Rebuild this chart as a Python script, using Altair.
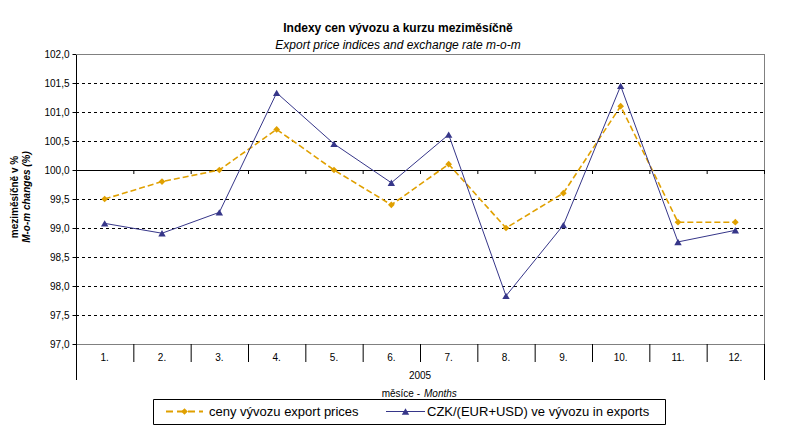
import altair as alt
import pandas as pd

# ---- data ----
months = list(range(1, 13))
month_labels = ["1.", "2.", "3.", "4.", "5.", "6.", "7.", "8.", "9.", "10.", "11.", "12."]
export_prices = [99.5, 99.8, 100.0, 100.7, 100.0, 99.4, 100.1, 99.0, 99.6, 101.1, 99.1, 99.1]
exchange_rate = [99.08, 98.91, 99.27, 101.33, 100.45, 99.78, 100.61, 97.83, 99.05, 101.45, 98.76, 98.96]
y_ticks = [97.0, 97.5, 98.0, 98.5, 99.0, 99.5, 100.0, 100.5, 101.0, 101.5, 102.0]
year_label = "2005"
series_names = ["ceny vývozu export prices", "CZK/(EUR+USD) ve vývozu in exports"]
title_cz = "Indexy cen vývozu a kurzu meziměsíčně"
title_en = "Export price indices and exchange rate m-o-m"
y_title = ["meziměsíčně v %", "M-o-m changes (%)"]
x_title = ["měsíce -", "Months"]

ORANGE = "#E0A000"
BLUE = "#363689"
GRAY = "#808080"
FONT = "Liberation Sans"

W, H = 688, 290

df = pd.DataFrame({"month": months, "label": month_labels,
                   "prices": export_prices, "rate": exchange_rate})
bounds = pd.DataFrame({"b": [m - 0.5 for m in months] + [months[-1] + 0.5]})
edges = bounds.iloc[[0, -1]]
inner_grid = pd.DataFrame({"v": [v for v in y_ticks if v not in (y_ticks[0], y_ticks[-1], 100.0)]})
frame_lines = pd.DataFrame({"v": [y_ticks[0], y_ticks[-1]]})

xs = alt.Scale(domain=[months[0] - 0.5, months[-1] + 0.5], nice=False, zero=False)
ys = alt.Scale(domain=[y_ticks[0], y_ticks[-1]], nice=False, zero=False)

YAX = alt.Axis(
    values=y_ticks, grid=False, title=None,
    labelExpr="replace(format(datum.value, '.1f'), '.', ',')",
    labelFont=FONT, labelFontSize=10, labelColor="black",
    labelOverlap=False, labelFlush=False, labelBound=False,
    tickSize=4, tickColor="black", labelPadding=3,
    domainColor="black")

X = lambda f: alt.X(f, scale=xs, axis=None)
Y = lambda f: alt.Y(f, scale=ys, axis=YAX)

grid = alt.Chart(inner_grid).mark_rule(color="black", strokeDash=[3, 3], strokeWidth=1, yOffset=0.5, y2Offset=0.5).encode(
    y=Y("v:Q"), x=alt.value(0), x2=alt.value(W))

frame = alt.Chart(frame_lines).mark_rule(color=GRAY, strokeWidth=1, yOffset=0.5, y2Offset=0.5).encode(
    y=Y("v:Q"), x=alt.value(0), x2=alt.value(W))
right_border = alt.Chart(edges.iloc[[1]]).mark_rule(color=GRAY, strokeWidth=1, xOffset=0.5).encode(
    x=X("b:Q"), y=alt.value(0), y2=alt.value(H))

zero_line = alt.Chart(pd.DataFrame({"v": [100.0]})).mark_rule(color="black", strokeWidth=1, yOffset=0.5, y2Offset=0.5).encode(
    y=Y("v:Q"), x=alt.value(0), x2=alt.value(W))

zero_ticks = alt.Chart(bounds.assign(v=100.0)).mark_rule(color="black", y2Offset=4, xOffset=0.5).encode(
    x=X("b:Q"), y=Y("v:Q"), y2="v:Q")

cat_ticks = alt.Chart(bounds).mark_rule(color="black", xOffset=0.5).encode(
    x=X("b:Q"), y=alt.value(H), y2=alt.value(H + 18))
edge_lines = alt.Chart(edges).mark_rule(color="black", xOffset=0.5).encode(
    x=X("b:Q"), y=alt.value(H), y2=alt.value(H + 36))

cat_labels = alt.Chart(df).mark_text(font=FONT, fontSize=10, color="black").encode(
    x=X("month:Q"), y=alt.value(H + 14), text="label:N")

def txt(s, x, y, size=10, weight="normal", style="normal", align="center", angle=0):
    return alt.Chart(pd.DataFrame({"t": [s]})).mark_text(
        font=FONT, fontSize=size, fontWeight=weight, fontStyle=style,
        align=align, baseline="middle", color="black", angle=angle).encode(
        x=alt.value(x), y=alt.value(y), text="t:N")

year = txt(year_label, W / 2, H + 32)
xt1 = txt(x_title[0], 344, H + 50, align="right")
xt2 = txt(x_title[1], 348, H + 50, style="italic", align="left")
t1 = txt(title_cz, 322, -26, size=12, weight="bold")
t2 = txt(title_en, 322, -9, size=12, style="italic")
yt1 = txt(y_title[0], -61, 143, size=10, weight="bold", angle=270)
yt2 = txt(y_title[1], -49, 143, size=10, weight="bold", style="italic", angle=270)

line_p = alt.Chart(df).mark_line(color=ORANGE, strokeWidth=1.6, strokeDash=[6, 3]).encode(
    x=X("month:Q"), y=Y("prices:Q"))
pts_p = alt.Chart(df).mark_point(shape="diamond", filled=True, color=ORANGE, size=45, opacity=1).encode(
    x=X("month:Q"), y=Y("prices:Q"))
line_r = alt.Chart(df).mark_line(color=BLUE, strokeWidth=1).encode(
    x=X("month:Q"), y=Y("rate:Q"))
pts_r = alt.Chart(df).mark_point(shape="triangle-up", filled=True, color=BLUE, size=55, opacity=1).encode(
    x=X("month:Q"), y=Y("rate:Q"))

# legend box
LY = 357.5
one = pd.DataFrame({"a": [0]})
leg_box = alt.Chart(one).mark_rect(fill="white", stroke="black", strokeWidth=1).encode(
    x=alt.value(77.5), x2=alt.value(589.5), y=alt.value(345.5), y2=alt.value(370.5))
leg_l1 = alt.Chart(one).mark_rule(color=ORANGE, strokeWidth=2, strokeDash=[7, 4]).encode(
    x=alt.value(90), x2=alt.value(127), y=alt.value(LY))
leg_p1 = alt.Chart(one).mark_point(shape="diamond", filled=True, color=ORANGE, size=45, opacity=1).encode(
    x=alt.value(108.5), y=alt.value(LY))
leg_t1 = txt(series_names[0], 133, LY, size=13, align="left")
leg_l2 = alt.Chart(one).mark_rule(color=BLUE, strokeWidth=1).encode(
    x=alt.value(310), x2=alt.value(349), y=alt.value(LY))
leg_p2 = alt.Chart(one).mark_point(shape="triangle-up", filled=True, color=BLUE, size=55, opacity=1).encode(
    x=alt.value(329.5), y=alt.value(LY))
leg_t2 = txt(series_names[1], 351, LY, size=13, align="left")

chart = alt.layer(
    grid, frame, right_border, zero_line, zero_ticks, cat_ticks, edge_lines, cat_labels,
    year, xt1, xt2, t1, t2, yt1, yt2,
    line_p, line_r, pts_p, pts_r,
    leg_box, leg_l1, leg_p1, leg_t1, leg_l2, leg_p2, leg_t2,
).properties(
    width=W, height=H,
    padding={"left": 68, "top": 46, "right": 24, "bottom": 84},
    autosize=alt.AutoSizeParams(type="none"),
).configure_view(stroke=GRAY, strokeWidth=1).configure(background="white")

chart.save("out.html", embed_options={"renderer": "svg", "actions": False})
